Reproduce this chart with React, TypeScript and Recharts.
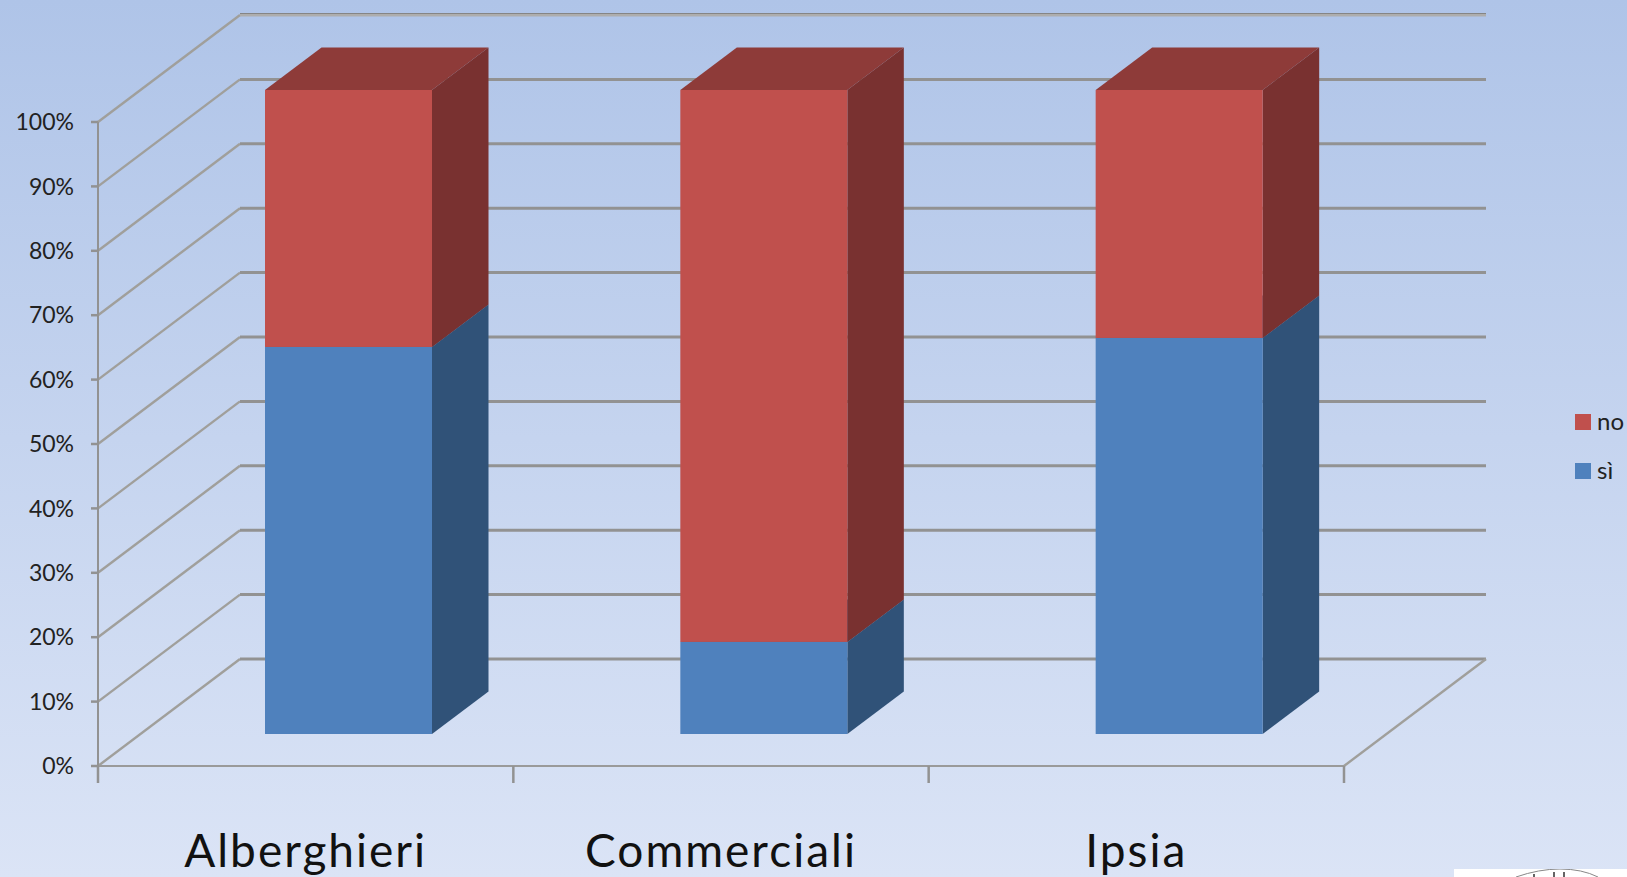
import React from "react";
import { BarChart, Bar, XAxis, YAxis, CartesianGrid, Legend } from "recharts";

const categories = ["Alberghieri", "Commerciali", "Ipsia"];
const siValues = [60.1, 14.3, 61.5];
const noValues = [39.9, 85.7, 38.5];
const yTicks = [0, 10, 20, 30, 40, 50, 60, 70, 80, 90, 100];
const legendOrder = ["no", "sì"];

const rows = categories.map((name, i) => ({ name, si: siValues[i], no: noValues[i] }));

const W = 1627;
const H = 877;
const PLOT_W = 1246;
const WALL_DX = 142;
const WALL_DY = 107;
const BAR_SHIFT_X = 43;
const BAR_SHIFT_Y = 32;
const BAR_DX = 56.5;
const BAR_DY = 42.5;
const GRID = "#929292";
const FONT = "Lato, 'Open Sans', sans-serif";

function Box3D(props: any) {
  const { x, y, width, height, front, side, top } = props;
  const l = x + BAR_SHIFT_X;
  const t = y - BAR_SHIFT_Y;
  const r = l + width;
  const b = t + height;
  return (
    <g>
      <polygon points={`${l},${t} ${l + BAR_DX},${t - BAR_DY} ${r + BAR_DX},${t - BAR_DY} ${r},${t}`} fill={top} />
      <polygon points={`${r},${t} ${r + BAR_DX},${t - BAR_DY} ${r + BAR_DX},${b - BAR_DY} ${r},${b}`} fill={side} />
      <rect x={l} y={t} width={width} height={height} fill={front} />
    </g>
  );
}

function WallLine(props: any) {
  const { x1, y1, x2, y, height, index } = props;
  const isFloor = Math.abs(y1 - (y + height)) < 1;
  const isTop = Math.abs(y1 - y) < 1;
  const by = y1 - WALL_DY;
  const bx = x1 + WALL_DX;
  return (
    <g key={index}>
      <line x1={x1} y1={y1} x2={bx} y2={by} stroke="#a09f9b" strokeWidth={2.4} />
      <line x1={bx} y1={by} x2={x2 + WALL_DX} y2={by} stroke={isTop ? "#adadad" : GRID} strokeWidth={3} />
      {isTop ? <line x1={bx} y1={by - 1.5} x2={x2 + WALL_DX} y2={by - 1.5} stroke="#858585" strokeWidth={1} /> : null}
      {isFloor ? <line x1={x2} y1={y1} x2={x2 + WALL_DX} y2={by} stroke="#a09f9b" strokeWidth={2.4} /> : null}
    </g>
  );
}

function CategoryTick(props: any) {
  const { x, y, payload, index } = props;
  const band = PLOT_W / categories.length;
  const last = index === categories.length - 1;
  return (
    <g>
      <line x1={x - band / 2} y1={y} x2={x - band / 2} y2={y + 17} stroke={GRID} strokeWidth={2.5} />
      {last ? <line x1={x + band / 2} y1={y} x2={x + band / 2} y2={y + 17} stroke={GRID} strokeWidth={2.5} /> : null}
      <text x={x} y={y + 101} textAnchor="middle" fontFamily={FONT} fontSize={46} letterSpacing={2} fill="#111">
        {payload.value}
      </text>
    </g>
  );
}

function LegendBox(props: any) {
  const items = legendOrder.map((n) => (props.payload || []).find((it: any) => it.value === n)).filter(Boolean);
  return (
    <div style={{ fontFamily: FONT, fontSize: 24, color: "#222" }}>
      {items.map((it: any) => (
        <div key={it.value} style={{ position: "relative", height: 49 }}>
          <span style={{ position: "absolute", left: 0, top: 0, width: 16, height: 16, background: it.color }} />
          <span style={{ position: "absolute", left: 22, top: -7, lineHeight: "28px" }}>{it.value}</span>
        </div>
      ))}
    </div>
  );
}

export default function App() {
  return (
    <div
      style={{
        position: "absolute",
        left: 0,
        top: 0,
        width: W,
        height: H,
        overflow: "hidden",
        background: "linear-gradient(180deg, #AFC4E8 0%, #DBE4F6 100%)",
      }}
    >
      <BarChart
        width={W}
        height={H}
        data={rows}
        margin={{ top: 122, right: 231, bottom: 0, left: 0 }}
        barCategoryGap={0}
      >
        <CartesianGrid horizontal={WallLine} vertical={false} />
        <XAxis
          dataKey="name"
          height={111}
          axisLine={{ stroke: "#9a9a9a", strokeWidth: 2 }}
          tickLine={false}
          tickSize={0}
          tickMargin={0}
          tick={CategoryTick}
          interval={0}
        />
        <YAxis
          width={98}
          domain={[0, 100]}
          ticks={yTicks}
          interval={0}
          tickFormatter={(v: number) => `${v}%`}
          axisLine={{ stroke: GRID, strokeWidth: 2 }}
          tickLine={{ stroke: GRID, strokeWidth: 2.5 }}
          tickSize={7}
          tickMargin={17}
          tick={{ fontFamily: FONT, fontSize: 23, fill: "#222" }}
        />
        <Legend
          layout="vertical"
          align="right"
          verticalAlign="middle"
          width={52}
          height={98}
          wrapperStyle={{ left: 1575, top: 414, right: "auto", bottom: "auto" }}
          content={LegendBox}
        />
        <Bar
          dataKey="si"
          name="sì"
          stackId="a"
          barSize={167}
          fill="#4F81BD"
          isAnimationActive={false}
          shape={(p: any) => <Box3D {...p} front="#4F81BD" side="#305278" top="#3B6491" />}
        />
        <Bar
          dataKey="no"
          name="no"
          stackId="a"
          barSize={167}
          fill="#C0504D"
          isAnimationActive={false}
          shape={(p: any) => <Box3D {...p} front="#C0504D" side="#793130" top="#8E3B39" />}
        />
      </BarChart>
      <div style={{ position: "absolute", left: 1454, top: 869, width: 173, height: 8, background: "#fff", overflow: "hidden" }}>
        <svg width={173} height={8} style={{ display: "block" }}>
          <path d="M62 8 Q85 0 106 0 Q128 0 144 8" fill="none" stroke="#888" strokeWidth={1} />
          <path d="M80 8 V5 M100 8 V3 M110 8 V3" stroke="#333" strokeWidth={1.5} />
        </svg>
      </div>
    </div>
  );
}
